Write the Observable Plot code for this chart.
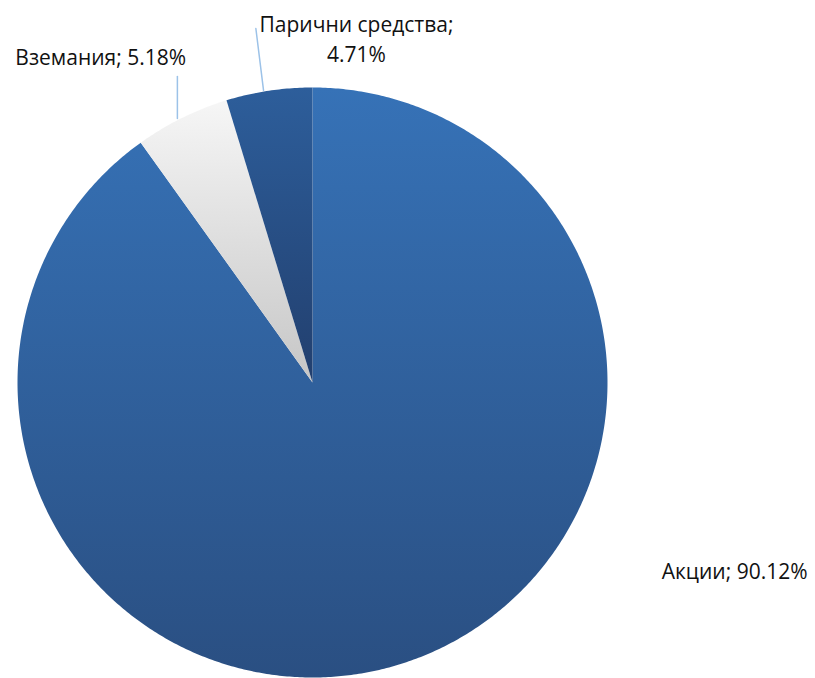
<!DOCTYPE html>
<html>
<head>
<meta charset="utf-8">
<script src="https://cdn.jsdelivr.net/npm/d3@7"></script>
<script src="https://cdn.jsdelivr.net/npm/@observablehq/plot@0.6"></script>
<style>
  html, body { margin: 0; padding: 0; background: #fff; }
  #chart { width: 815px; height: 678px; }
</style>
</head>
<body>
<div id="chart"></div>
<script>
// Data (clockwise from 12 o'clock)
const categories = ["Акции", "Вземания", "Парични средства"];
const values = [90.12, 5.18, 4.71];
const labels = ["Акции; 90.12%", "Вземания; 5.18%", "Парични средства;\n4.71%"];

// Build slice outlines in data space (unit circle, y up)
const total = d3.sum(values);
const slices = [];
let acc = 0;
categories.forEach((c, i) => {
  const a0 = acc / total * 2 * Math.PI;
  acc += values[i];
  const a1 = acc / total * 2 * Math.PI;
  const pts = [{cat: c, x: 0, y: 0}];
  const n = Math.max(4, Math.ceil((a1 - a0) / (Math.PI / 360)));
  for (let k = 0; k <= n; k++) {
    const a = a0 + (a1 - a0) * k / n;
    pts.push({cat: c, x: Math.sin(a), y: Math.cos(a)});
  }
  pts.push({cat: c, x: 0, y: 0});
  slices.push(pts);
});

const gradIds = ["gAkcii", "gVzemania", "gParichni"];
const gradStops = [["#3672b7", "#2a4f82"], ["#f6f6f6", "#c6c6c6"], ["#2d5e9b", "#223f6e"]];

const font = "'Open Sans', 'Liberation Sans', sans-serif";
const leaderColor = "#9cc2e8";

const plot = Plot.plot({
  width: 815,
  height: 678,
  marginLeft: 17,
  marginRight: 208,
  marginTop: 87,
  marginBottom: 1,
  x: {domain: [-1, 1], axis: null},
  y: {domain: [-1, 1], axis: null},
  style: {fontFamily: font, background: "transparent"},
  marks: [
    ...slices.map((pts, i) => Plot.line(pts, {x: "x", y: "y", fill: `url(#${gradIds[i]})`, stroke: "none", curve: "linear"})),
    // leader lines
    Plot.line([{x: -0.458, y: 1.037}, {x: -0.458, y: 0.895}], {x: "x", y: "y", stroke: leaderColor, strokeWidth: 1.5}),
    Plot.line([{x: -0.192, y: 1.200}, {x: -0.166, y: 0.990}], {x: "x", y: "y", stroke: leaderColor, strokeWidth: 1.5}),
    // labels
    Plot.text([labels[0]], {x: () => 1.431, y: () => -0.644, text: d => d, fontSize: 21, fill: "#111", textAnchor: "middle"}),
    Plot.text([labels[1]], {x: () => -0.718, y: () => 1.098, text: d => d, fontSize: 21, fill: "#111", textAnchor: "middle"}),
    Plot.text([labels[2]], {x: () => 0.149, y: () => 1.169, text: d => d, fontSize: 21, fill: "#111", textAnchor: "middle", lineHeight: 1.43})
  ]
});

const defs = d3.select(plot).insert("defs", ":first-child");
gradIds.forEach((id, i) => {
  const g = defs.append("linearGradient").attr("id", id).attr("x1", 0).attr("y1", 0).attr("x2", 0).attr("y2", 1);
  g.append("stop").attr("offset", "0%").attr("stop-color", gradStops[i][0]);
  g.append("stop").attr("offset", "100%").attr("stop-color", gradStops[i][1]);
});

document.getElementById("chart").appendChild(plot);
</script>
</body>
</html>
